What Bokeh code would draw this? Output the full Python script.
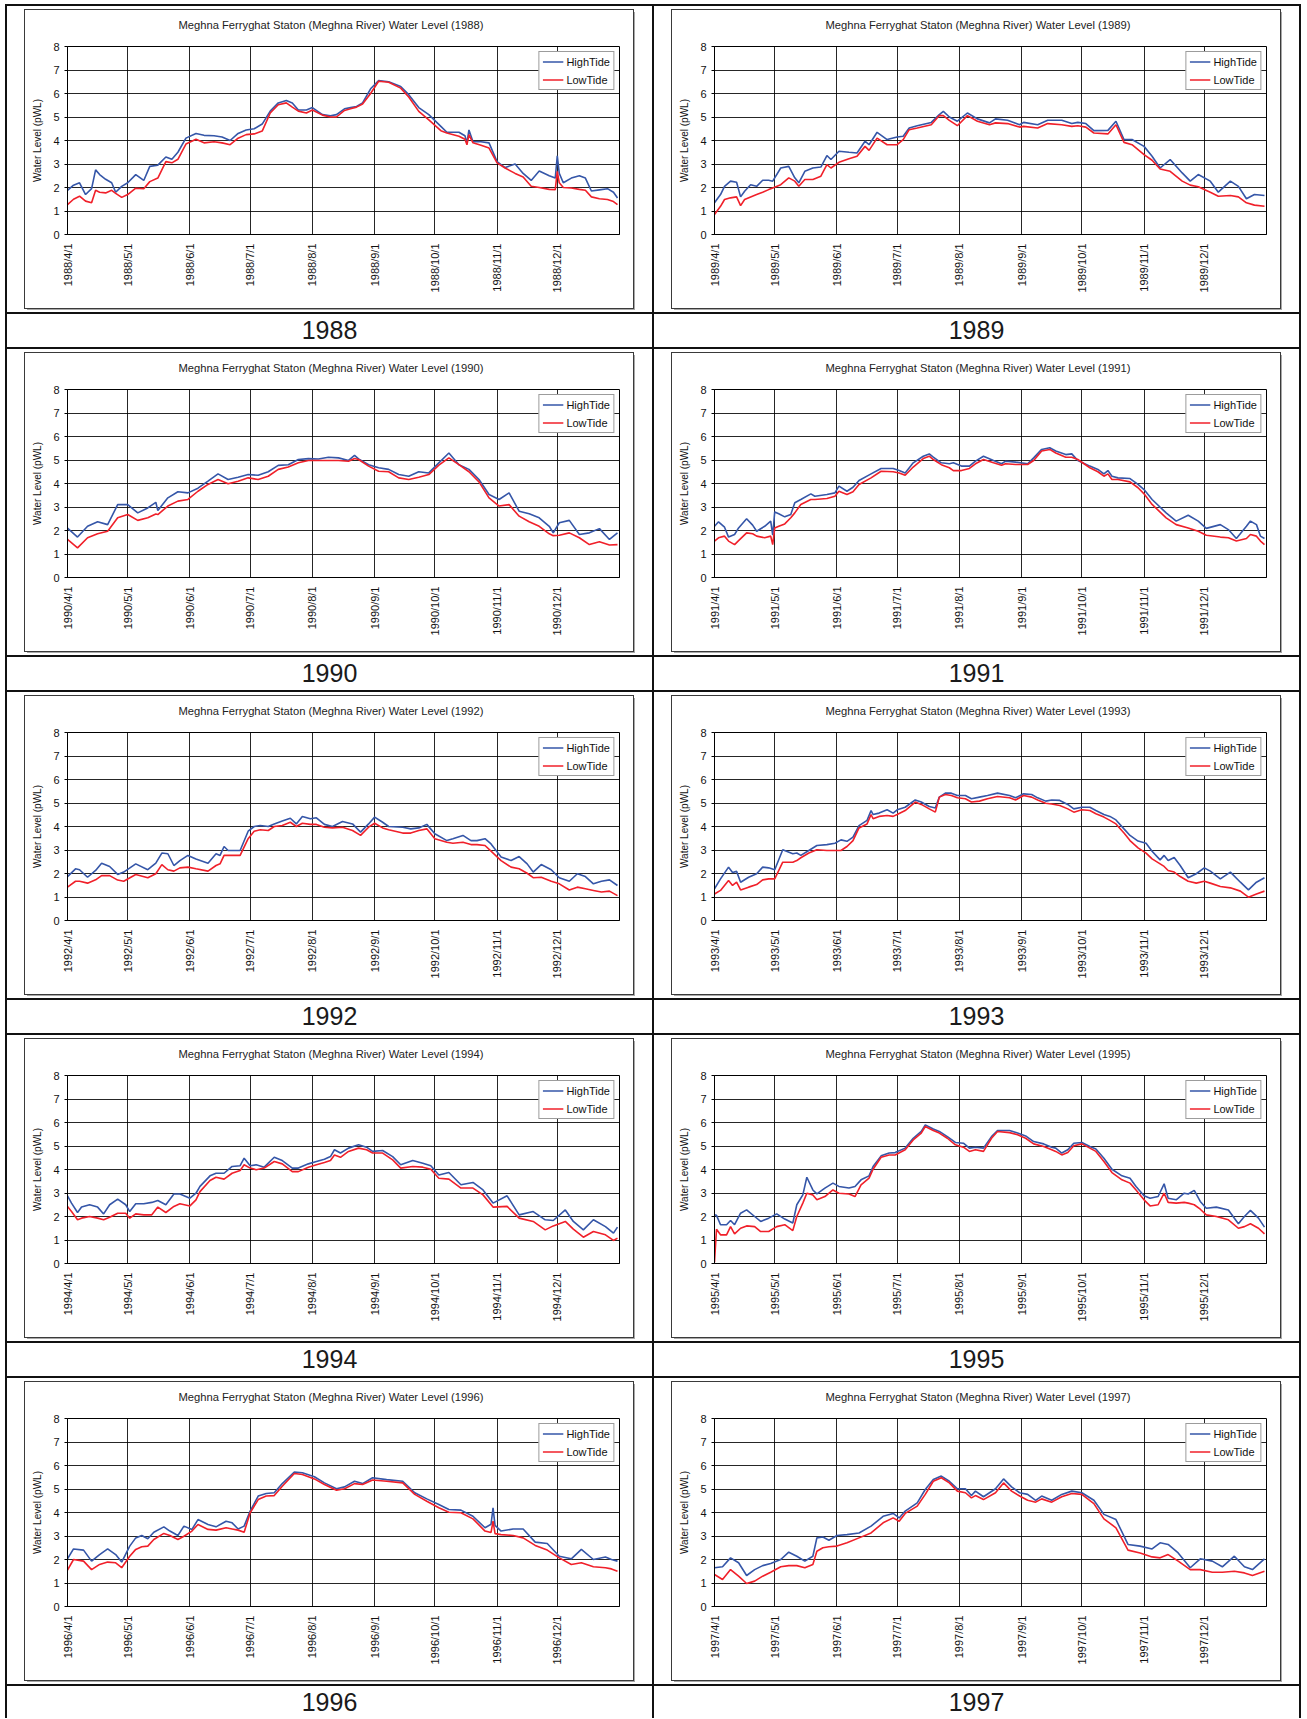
import math
from datetime import date

from bokeh.embed import file_html
from bokeh.layouts import column, row
from bokeh.models import Div, FixedTicker, Range1d, Title
from bokeh.plotting import figure
from bokeh.resources import INLINE

# ---------------------------------------------------------------------------
# Daily water level readings (m, pWL) at Meghna Ferryghat station.
# Days are counted from 1 April of each year.
# ---------------------------------------------------------------------------
YEARS = [1988, 1989, 1990, 1991, 1992, 1993, 1994, 1995, 1996, 1997]
MONTHS = [4, 5, 6, 7, 8, 9, 10, 11, 12]

DAYS_1988 = [0, 3, 6, 9, 12, 14, 16, 19, 22, 24, 27, 30, 34, 38, 41, 45, 49, 52, 55, 59, 64, 68, 73, 77, 81, 85, 89, 93, 97, 101, 105, 109, 112, 115, 119, 122, 127, 131, 134, 138, 141, 144, 147, 151, 155, 160, 166, 170, 175, 180, 186, 189, 195, 198, 199, 200, 202, 206, 210, 214, 218, 223, 227, 231, 235, 240, 243, 244, 245, 247, 251, 255, 258, 261, 265, 269, 272, 274]
HIGH_1988 = [1.88, 2.1, 2.2, 1.7, 1.95, 2.75, 2.55, 2.35, 2.2, 1.8, 2.05, 2.2, 2.55, 2.3, 2.9, 2.95, 3.3, 3.2, 3.5, 4.1, 4.3, 4.22, 4.2, 4.15, 4.0, 4.3, 4.45, 4.5, 4.7, 5.25, 5.6, 5.7, 5.6, 5.3, 5.3, 5.4, 5.1, 5.05, 5.1, 5.35, 5.4, 5.45, 5.6, 6.2, 6.55, 6.5, 6.3, 5.95, 5.4, 5.1, 4.6, 4.35, 4.35, 4.2, 3.9, 4.45, 3.95, 3.95, 3.9, 3.1, 2.85, 3.0, 2.6, 2.3, 2.7, 2.5, 2.4, 3.35, 2.6, 2.2, 2.4, 2.5, 2.4, 1.85, 1.9, 1.95, 1.8, 1.55]
LOW_1988 = [1.27, 1.5, 1.63, 1.42, 1.35, 1.88, 1.8, 1.77, 1.88, 1.75, 1.58, 1.7, 1.97, 1.95, 2.25, 2.4, 3.1, 3.05, 3.2, 3.85, 4.05, 3.9, 3.95, 3.9, 3.82, 4.1, 4.25, 4.28, 4.4, 5.17, 5.52, 5.6, 5.42, 5.25, 5.17, 5.3, 5.08, 5.0, 5.0, 5.28, 5.35, 5.42, 5.55, 6.0, 6.52, 6.48, 6.23, 5.85, 5.24, 4.88, 4.42, 4.32, 4.18, 4.05, 3.82, 4.25, 3.9, 3.8, 3.68, 3.05, 2.83, 2.6, 2.45, 2.05, 2.0, 1.92, 1.91, 2.69, 2.2, 2.0, 1.98, 1.92, 1.88, 1.6, 1.52, 1.49, 1.4, 1.27]

DAYS_1989 = [0, 3, 5, 8, 11, 13, 15, 18, 21, 24, 27, 29, 33, 37, 40, 42, 45, 49, 53, 56, 58, 62, 67, 71, 75, 77, 81, 86, 91, 94, 97, 101, 108, 112, 114, 117, 121, 126, 131, 137, 140, 146, 152, 154, 161, 166, 173, 178, 181, 185, 189, 196, 200, 204, 208, 214, 218, 222, 227, 233, 237, 241, 247, 251, 257, 261, 265, 269, 274]
HIGH_1989 = [1.35, 1.7, 2.05, 2.27, 2.22, 1.6, 1.84, 2.12, 2.05, 2.31, 2.31, 2.27, 2.83, 2.9, 2.41, 2.2, 2.69, 2.83, 2.87, 3.36, 3.19, 3.54, 3.5, 3.47, 3.97, 3.82, 4.35, 4.04, 4.15, 4.18, 4.53, 4.63, 4.77, 5.1, 5.24, 5.0, 4.82, 5.17, 4.92, 4.75, 4.92, 4.86, 4.67, 4.77, 4.67, 4.86, 4.86, 4.72, 4.77, 4.72, 4.42, 4.43, 4.82, 4.04, 4.04, 3.75, 3.33, 2.83, 3.19, 2.62, 2.27, 2.55, 2.27, 1.8, 2.27, 2.05, 1.52, 1.7, 1.66]
LOW_1989 = [0.85, 1.2, 1.49, 1.56, 1.6, 1.23, 1.49, 1.6, 1.7, 1.8, 1.91, 1.98, 2.12, 2.41, 2.27, 2.05, 2.34, 2.34, 2.48, 2.97, 2.83, 3.07, 3.22, 3.33, 3.75, 3.58, 4.1, 3.82, 3.82, 4.04, 4.46, 4.53, 4.67, 5.06, 5.06, 4.86, 4.63, 5.06, 4.82, 4.67, 4.75, 4.72, 4.57, 4.6, 4.53, 4.72, 4.67, 4.6, 4.63, 4.57, 4.32, 4.28, 4.67, 3.92, 3.82, 3.4, 3.16, 2.79, 2.69, 2.27, 2.1, 2.03, 1.8, 1.63, 1.66, 1.6, 1.35, 1.25, 1.2]

DAYS_1990 = [0, 5, 10, 15, 20, 25, 30, 35, 40, 44, 45, 50, 55, 60, 65, 70, 75, 80, 85, 90, 95, 100, 105, 110, 115, 120, 125, 130, 135, 140, 143, 145, 150, 155, 160, 165, 170, 175, 180, 185, 190, 195, 200, 205, 210, 215, 220, 225, 230, 235, 240, 242, 245, 250, 255, 260, 265, 270, 274]
HIGH_1990 = [2.1, 1.72, 2.18, 2.37, 2.25, 3.1, 3.1, 2.75, 2.96, 3.2, 2.85, 3.39, 3.65, 3.6, 3.8, 4.1, 4.41, 4.17, 4.27, 4.38, 4.35, 4.5, 4.77, 4.8, 5.02, 5.06, 5.04, 5.12, 5.09, 4.98, 5.2, 5.05, 4.8, 4.67, 4.6, 4.38, 4.31, 4.5, 4.45, 4.88, 5.3, 4.8, 4.6, 4.17, 3.53, 3.32, 3.6, 2.82, 2.71, 2.54, 2.18, 1.9, 2.33, 2.43, 1.83, 1.9, 2.08, 1.62, 1.9]
LOW_1990 = [1.62, 1.26, 1.69, 1.86, 1.97, 2.54, 2.68, 2.43, 2.54, 2.7, 2.68, 3.04, 3.25, 3.32, 3.67, 3.96, 4.17, 3.99, 4.1, 4.24, 4.17, 4.31, 4.6, 4.7, 4.88, 4.98, 4.98, 4.98, 4.98, 4.95, 5.06, 5.02, 4.74, 4.52, 4.5, 4.24, 4.17, 4.27, 4.38, 4.78, 5.09, 4.8, 4.5, 4.07, 3.39, 3.04, 3.1, 2.61, 2.37, 2.18, 1.86, 1.78, 1.8, 1.9, 1.69, 1.4, 1.52, 1.38, 1.4]

DAYS_1991 = [0, 2, 5, 7, 10, 12, 16, 19, 21, 25, 28, 29, 30, 32, 35, 38, 40, 43, 48, 50, 56, 60, 62, 66, 69, 72, 78, 83, 89, 92, 95, 99, 104, 107, 109, 113, 117, 119, 123, 127, 130, 134, 139, 143, 145, 150, 156, 159, 163, 167, 170, 175, 178, 181, 187, 191, 194, 196, 198, 201, 207, 211, 214, 218, 225, 230, 236, 241, 245, 252, 256, 260, 265, 267, 270, 272, 274]
HIGH_1991 = [2.18, 2.37, 2.14, 1.72, 1.83, 2.11, 2.5, 2.23, 1.97, 2.18, 2.4, 1.8, 2.79, 2.71, 2.58, 2.68, 3.18, 3.32, 3.56, 3.46, 3.53, 3.6, 3.89, 3.67, 3.84, 4.13, 4.41, 4.64, 4.64, 4.55, 4.45, 4.88, 5.16, 5.26, 5.12, 4.88, 4.84, 4.88, 4.74, 4.74, 4.95, 5.16, 4.98, 4.84, 4.95, 4.91, 4.84, 5.09, 5.45, 5.52, 5.38, 5.23, 5.26, 4.98, 4.74, 4.6, 4.41, 4.55, 4.31, 4.24, 4.21, 3.96, 3.74, 3.32, 2.75, 2.4, 2.65, 2.4, 2.09, 2.25, 2.04, 1.66, 2.18, 2.4, 2.25, 1.76, 1.66]
LOW_1991 = [1.55, 1.69, 1.76, 1.55, 1.4, 1.57, 1.9, 1.86, 1.76, 1.69, 1.76, 1.4, 2.11, 2.18, 2.28, 2.54, 2.75, 3.11, 3.32, 3.32, 3.36, 3.46, 3.67, 3.53, 3.65, 3.96, 4.24, 4.52, 4.5, 4.45, 4.35, 4.7, 5.06, 5.16, 5.02, 4.8, 4.67, 4.55, 4.55, 4.64, 4.84, 5.02, 4.88, 4.78, 4.84, 4.81, 4.81, 4.98, 5.38, 5.45, 5.3, 5.12, 5.12, 5.02, 4.67, 4.5, 4.31, 4.41, 4.17, 4.17, 4.07, 3.82, 3.56, 3.11, 2.54, 2.25, 2.11, 1.97, 1.8, 1.72, 1.69, 1.55, 1.66, 1.83, 1.76, 1.55, 1.4]

DAYS_1992 = [0, 4, 6, 10, 14, 17, 21, 25, 28, 34, 40, 44, 47, 50, 53, 56, 60, 64, 70, 74, 76, 78, 80, 86, 90, 93, 96, 100, 103, 107, 111, 114, 117, 121, 124, 128, 132, 137, 142, 146, 150, 153, 157, 160, 167, 171, 175, 179, 183, 189, 192, 197, 201, 204, 208, 211, 216, 221, 225, 229, 232, 236, 241, 245, 250, 254, 258, 262, 266, 270, 274]
HIGH_1992 = [1.87, 2.2, 2.16, 1.84, 2.13, 2.44, 2.3, 1.96, 2.06, 2.41, 2.16, 2.44, 2.87, 2.84, 2.34, 2.55, 2.77, 2.62, 2.44, 2.84, 2.77, 3.15, 2.98, 2.98, 3.8, 4.0, 4.04, 4.0, 4.11, 4.23, 4.35, 4.11, 4.43, 4.33, 4.37, 4.09, 4.0, 4.21, 4.11, 3.76, 4.11, 4.4, 4.18, 4.0, 3.97, 3.9, 3.94, 4.09, 3.69, 3.4, 3.48, 3.62, 3.4, 3.4, 3.48, 3.26, 2.7, 2.55, 2.72, 2.41, 2.06, 2.38, 2.16, 1.82, 1.67, 1.99, 1.87, 1.56, 1.67, 1.73, 1.49]
LOW_1992 = [1.42, 1.67, 1.67, 1.59, 1.73, 1.91, 1.91, 1.72, 1.67, 1.96, 1.82, 1.99, 2.38, 2.16, 2.1, 2.24, 2.27, 2.2, 2.1, 2.34, 2.41, 2.77, 2.77, 2.77, 3.48, 3.8, 3.86, 3.83, 4.0, 4.04, 4.18, 4.0, 4.14, 4.09, 4.09, 3.97, 3.94, 3.97, 3.83, 3.62, 3.97, 4.14, 3.94, 3.86, 3.72, 3.72, 3.83, 3.9, 3.48, 3.33, 3.29, 3.33, 3.23, 3.23, 3.19, 2.95, 2.55, 2.27, 2.2, 2.01, 1.82, 1.84, 1.67, 1.56, 1.3, 1.42, 1.35, 1.28, 1.21, 1.25, 1.06]

DAYS_1993 = [0, 3, 7, 9, 11, 13, 17, 21, 24, 27, 30, 34, 39, 41, 43, 47, 51, 56, 60, 63, 66, 69, 72, 76, 78, 79, 82, 86, 89, 91, 95, 100, 103, 107, 110, 112, 115, 118, 121, 125, 128, 132, 136, 141, 147, 150, 154, 158, 161, 165, 168, 172, 176, 179, 183, 187, 190, 194, 197, 200, 204, 207, 211, 215, 218, 222, 224, 226, 229, 232, 236, 240, 244, 247, 252, 257, 262, 266, 270, 274]
HIGH_1993 = [1.35, 1.77, 2.27, 2.04, 2.09, 1.63, 1.84, 1.99, 2.27, 2.24, 2.16, 3.01, 2.84, 2.87, 2.77, 2.98, 3.19, 3.23, 3.29, 3.43, 3.37, 3.55, 4.04, 4.26, 4.68, 4.51, 4.57, 4.71, 4.57, 4.71, 4.82, 5.13, 5.04, 4.85, 4.79, 5.25, 5.42, 5.42, 5.32, 5.32, 5.18, 5.25, 5.32, 5.42, 5.32, 5.22, 5.39, 5.36, 5.22, 5.08, 5.13, 5.11, 4.94, 4.75, 4.82, 4.82, 4.68, 4.51, 4.43, 4.28, 3.9, 3.62, 3.38, 3.29, 2.95, 2.58, 2.77, 2.55, 2.68, 2.34, 1.82, 1.99, 2.24, 2.1, 1.77, 2.06, 1.63, 1.3, 1.63, 1.82]
LOW_1993 = [1.13, 1.28, 1.7, 1.49, 1.63, 1.3, 1.42, 1.53, 1.73, 1.77, 1.77, 2.48, 2.48, 2.55, 2.67, 2.87, 3.01, 2.98, 2.98, 2.98, 3.15, 3.4, 3.94, 4.11, 4.51, 4.33, 4.43, 4.47, 4.43, 4.51, 4.68, 5.04, 4.94, 4.75, 4.61, 5.25, 5.36, 5.32, 5.22, 5.18, 5.04, 5.08, 5.18, 5.28, 5.22, 5.13, 5.32, 5.25, 5.13, 4.99, 4.96, 4.89, 4.75, 4.61, 4.71, 4.68, 4.54, 4.4, 4.26, 4.11, 3.72, 3.4, 3.09, 2.87, 2.62, 2.41, 2.3, 2.13, 2.06, 1.87, 1.67, 1.59, 1.67, 1.59, 1.45, 1.39, 1.25, 0.99, 1.13, 1.25]

DAYS_1994 = [0, 2, 5, 7, 11, 15, 18, 21, 25, 29, 31, 34, 38, 42, 45, 49, 53, 56, 61, 64, 66, 71, 74, 78, 82, 86, 88, 91, 94, 98, 103, 107, 112, 115, 120, 124, 128, 131, 133, 136, 140, 145, 149, 152, 157, 162, 166, 172, 177, 181, 185, 190, 196, 202, 207, 212, 219, 225, 232, 238, 242, 248, 252, 257, 262, 268, 272, 274]
HIGH_1994 = [2.88, 2.57, 2.17, 2.4, 2.5, 2.4, 2.11, 2.5, 2.74, 2.5, 2.21, 2.54, 2.54, 2.6, 2.68, 2.5, 2.96, 2.96, 2.78, 2.99, 3.28, 3.73, 3.84, 3.84, 4.13, 4.16, 4.48, 4.16, 4.2, 4.1, 4.52, 4.38, 4.06, 4.06, 4.24, 4.34, 4.44, 4.55, 4.84, 4.7, 4.91, 5.05, 4.95, 4.77, 4.81, 4.55, 4.2, 4.38, 4.27, 4.16, 3.77, 3.87, 3.35, 3.45, 3.13, 2.57, 2.88, 2.07, 2.21, 1.86, 1.83, 2.28, 1.79, 1.43, 1.86, 1.57, 1.29, 1.55]
LOW_1994 = [2.43, 2.21, 1.86, 1.93, 2.0, 1.93, 1.86, 1.97, 2.14, 2.14, 1.93, 2.11, 2.07, 2.07, 2.4, 2.17, 2.43, 2.54, 2.45, 2.71, 3.06, 3.53, 3.67, 3.59, 3.84, 3.96, 4.2, 4.06, 3.99, 4.06, 4.34, 4.24, 3.91, 3.91, 4.1, 4.2, 4.3, 4.38, 4.62, 4.52, 4.77, 4.91, 4.84, 4.7, 4.7, 4.41, 4.06, 4.13, 4.1, 4.01, 3.63, 3.59, 3.21, 3.21, 2.92, 2.4, 2.43, 1.93, 1.79, 1.43, 1.6, 1.79, 1.46, 1.12, 1.36, 1.22, 0.98, 1.08]

DAYS_1995 = [0, 1, 3, 6, 8, 10, 13, 16, 20, 23, 27, 31, 35, 39, 41, 44, 46, 49, 51, 55, 59, 62, 67, 70, 73, 77, 79, 83, 87, 90, 95, 99, 103, 105, 109, 112, 116, 120, 124, 127, 130, 134, 138, 141, 147, 151, 155, 159, 164, 168, 170, 173, 176, 179, 183, 187, 190, 194, 198, 203, 207, 210, 214, 217, 221, 224, 226, 230, 234, 236, 239, 242, 245, 250, 256, 261, 264, 267, 271, 274]
HIGH_1995 = [2.07, 2.05, 1.65, 1.65, 1.83, 1.65, 2.14, 2.28, 2.0, 1.79, 1.93, 2.11, 1.89, 1.72, 2.5, 2.92, 3.67, 3.13, 2.96, 3.21, 3.42, 3.28, 3.21, 3.28, 3.56, 3.73, 4.13, 4.58, 4.7, 4.72, 4.91, 5.33, 5.62, 5.9, 5.72, 5.62, 5.4, 5.15, 5.12, 4.91, 4.95, 4.91, 5.4, 5.66, 5.66, 5.55, 5.43, 5.19, 5.09, 4.95, 4.91, 4.7, 4.84, 5.12, 5.15, 4.98, 4.87, 4.48, 4.01, 3.73, 3.63, 3.28, 2.88, 2.78, 2.85, 3.39, 2.78, 2.71, 2.99, 2.96, 3.11, 2.64, 2.35, 2.4, 2.28, 1.69, 2.0, 2.26, 1.93, 1.55]
LOW_1995 = [0.05, 1.46, 1.22, 1.22, 1.57, 1.26, 1.5, 1.6, 1.57, 1.36, 1.36, 1.57, 1.65, 1.4, 2.0, 2.57, 2.99, 2.92, 2.71, 2.85, 3.13, 2.99, 2.96, 2.85, 3.35, 3.63, 4.01, 4.52, 4.62, 4.62, 4.84, 5.26, 5.55, 5.83, 5.66, 5.55, 5.33, 5.05, 4.95, 4.77, 4.84, 4.77, 5.33, 5.62, 5.57, 5.48, 5.33, 5.09, 4.98, 4.84, 4.77, 4.62, 4.72, 5.01, 5.09, 4.91, 4.77, 4.34, 3.87, 3.56, 3.42, 3.13, 2.71, 2.45, 2.5, 2.99, 2.6, 2.57, 2.6, 2.57, 2.5, 2.31, 2.07, 2.0, 1.86, 1.5, 1.57, 1.69, 1.5, 1.26]

DAYS_1996 = [0, 3, 8, 12, 16, 20, 24, 27, 31, 34, 37, 40, 43, 48, 51, 55, 58, 62, 65, 70, 74, 79, 82, 85, 88, 91, 95, 99, 103, 107, 113, 117, 123, 128, 134, 138, 143, 147, 152, 159, 167, 173, 179, 185, 190, 196, 202, 208, 211, 212, 213, 216, 222, 227, 233, 239, 245, 251, 256, 262, 268, 271, 274]
HIGH_1996 = [2.03, 2.45, 2.4, 1.93, 2.21, 2.45, 2.21, 1.89, 2.57, 2.92, 3.02, 2.88, 3.16, 3.39, 3.21, 3.02, 3.42, 3.28, 3.7, 3.49, 3.39, 3.63, 3.56, 3.3, 3.42, 4.06, 4.7, 4.81, 4.84, 5.23, 5.72, 5.69, 5.52, 5.26, 5.01, 5.09, 5.33, 5.23, 5.48, 5.4, 5.33, 4.84, 4.58, 4.34, 4.13, 4.1, 3.84, 3.35, 3.5, 4.2, 3.45, 3.21, 3.3, 3.3, 2.74, 2.68, 2.14, 2.03, 2.43, 2.0, 2.11, 2.0, 1.93]
LOW_1996 = [1.55, 2.0, 1.93, 1.57, 1.79, 1.89, 1.86, 1.65, 2.14, 2.43, 2.54, 2.57, 2.85, 3.11, 3.02, 2.85, 2.99, 3.21, 3.49, 3.28, 3.25, 3.35, 3.3, 3.25, 3.16, 3.99, 4.55, 4.7, 4.72, 5.12, 5.66, 5.62, 5.43, 5.19, 4.95, 5.01, 5.23, 5.19, 5.38, 5.33, 5.26, 4.77, 4.48, 4.2, 4.01, 3.99, 3.73, 3.21, 3.15, 3.63, 3.1, 3.06, 3.02, 2.92, 2.6, 2.4, 2.07, 1.79, 1.86, 1.69, 1.65, 1.6, 1.5]

DAYS_1997 = [0, 4, 8, 12, 16, 20, 24, 28, 33, 37, 41, 45, 49, 51, 54, 57, 61, 66, 72, 78, 84, 89, 92, 95, 101, 105, 109, 113, 117, 121, 125, 128, 130, 134, 140, 144, 148, 152, 156, 160, 163, 168, 173, 178, 183, 189, 194, 200, 206, 212, 218, 222, 226, 231, 237, 242, 248, 253, 259, 264, 268, 274]
HIGH_1997 = [1.65, 1.69, 2.07, 1.86, 1.32, 1.57, 1.74, 1.83, 2.0, 2.31, 2.14, 1.93, 2.14, 2.92, 2.96, 2.82, 3.02, 3.06, 3.13, 3.42, 3.84, 3.96, 3.77, 4.06, 4.41, 4.98, 5.4, 5.55, 5.33, 5.01, 5.01, 4.72, 4.91, 4.67, 5.01, 5.43, 5.09, 4.84, 4.77, 4.52, 4.7, 4.52, 4.77, 4.91, 4.84, 4.52, 3.92, 3.7, 2.64, 2.57, 2.45, 2.71, 2.64, 2.28, 1.65, 2.03, 1.93, 1.69, 2.14, 1.69, 1.57, 2.03]
LOW_1997 = [1.36, 1.15, 1.57, 1.29, 0.98, 1.08, 1.29, 1.46, 1.69, 1.74, 1.74, 1.65, 1.79, 2.35, 2.5, 2.54, 2.57, 2.71, 2.92, 3.13, 3.56, 3.77, 3.63, 3.96, 4.27, 4.77, 5.33, 5.48, 5.26, 4.91, 4.84, 4.62, 4.72, 4.55, 4.84, 5.26, 4.91, 4.7, 4.52, 4.44, 4.58, 4.44, 4.67, 4.81, 4.77, 4.38, 3.73, 3.35, 2.4, 2.28, 2.11, 2.07, 2.21, 1.93, 1.57, 1.57, 1.46, 1.46, 1.5, 1.43, 1.32, 1.5]

SERIES = {
    1988: (DAYS_1988, HIGH_1988, LOW_1988),
    1989: (DAYS_1989, HIGH_1989, LOW_1989),
    1990: (DAYS_1990, HIGH_1990, LOW_1990),
    1991: (DAYS_1991, HIGH_1991, LOW_1991),
    1992: (DAYS_1992, HIGH_1992, LOW_1992),
    1993: (DAYS_1993, HIGH_1993, LOW_1993),
    1994: (DAYS_1994, HIGH_1994, LOW_1994),
    1995: (DAYS_1995, HIGH_1995, LOW_1995),
    1996: (DAYS_1996, HIGH_1996, LOW_1996),
    1997: (DAYS_1997, HIGH_1997, LOW_1997),
}

# ---------------------------------------------------------------------------
# Styling
# ---------------------------------------------------------------------------
FONT = "Liberation Sans"
HIGH_COLOR = "#3556a8"
LOW_COLOR = "#f0202a"
RULE = "#111111"

CELL_W = 645          # width of one table cell
CHART_ROW_H = 306     # height of the chart part of a table row
YEAR_ROW_H = 33       # height of the year caption part
LINE_W = 2            # table rule thickness

FRAME_W, FRAME_H = 552, 188
BORDER_L, BORDER_R, BORDER_T, BORDER_B = 42, 14, 36, 74


def rule(width, height):
    return Div(text="", width=width, height=height, margin=0,
               styles={"background-color": RULE})


def chart(year):
    days, high, low = SERIES[year]
    start = date(year, 4, 1)
    ticks = [(date(year, m, 1) - start).days for m in MONTHS]

    p = figure(
        frame_width=FRAME_W, frame_height=FRAME_H,
        min_border_left=BORDER_L, min_border_right=BORDER_R,
        min_border_top=BORDER_T, min_border_bottom=BORDER_B,
        x_range=Range1d(0, 275), y_range=Range1d(0, 8),
        output_backend="svg", toolbar_location=None,
        margin=(4, 19, 4, 18),
        styles={"outline": "1px solid #3a3a3a",
                "box-shadow": "2px 2px 0 #a8a8a8"},
    )
    p.background_fill_color = "white"
    p.border_fill_color = "white"
    p.outline_line_color = "#000000"
    p.outline_line_width = 1

    # chart heading (outermost slot of the top panel)
    p.title.text = f"Meghna Ferryghat Staton (Meghna River) Water Level ({year})"
    p.title.text_font = FONT
    p.title.text_font_size = "11.2px"
    p.title.text_font_style = "normal"
    p.title.text_color = "#222222"
    p.title.align = "left"
    p.title.offset = 111
    p.title.standoff = 6

    # thin spacer between the frame and the heading
    p.add_layout(Title(text=" ", text_font_size="1px", standoff=10), "above")

    # grid
    p.xgrid.ticker = FixedTicker(ticks=ticks)
    p.ygrid.ticker = FixedTicker(ticks=list(range(9)))
    for g in (p.xgrid, p.ygrid):
        g.grid_line_color = "#000000"
        g.grid_line_width = 1
        g.grid_line_alpha = 0.85

    # x axis: first day of each month, vertical labels
    xa = p.xaxis[0]
    xa.ticker = FixedTicker(ticks=ticks)
    xa.major_label_overrides = {t: f"{year}/{m}/1" for t, m in zip(ticks, MONTHS)}
    xa.major_label_orientation = math.pi / 2
    xa.major_label_standoff = 9
    xa.major_tick_out = 0
    xa.major_tick_in = 0
    xa.minor_tick_out = 0
    xa.minor_tick_in = 0

    # y axis
    ya = p.yaxis[0]
    ya.ticker = FixedTicker(ticks=list(range(9)))
    ya.axis_label = "Water Level (pWL)"
    ya.axis_label_text_font = FONT
    ya.axis_label_text_font_size = "10px"
    ya.axis_label_text_font_style = "normal"
    ya.axis_label_text_color = "#111111"
    ya.axis_label_standoff = 7
    ya.major_label_standoff = 5
    ya.major_tick_out = 3
    ya.major_tick_in = 0
    ya.minor_tick_out = 0
    ya.minor_tick_in = 0

    for ax in (xa, ya):
        ax.axis_line_color = "#000000"
        ax.major_tick_line_color = "#000000"
        ax.major_label_text_font = FONT
        ax.major_label_text_font_size = "11px"
        ax.major_label_text_color = "#111111"

    p.line(days, high, line_color=HIGH_COLOR, line_width=1.6, legend_label="HighTide")
    p.line(days, low, line_color=LOW_COLOR, line_width=1.6, legend_label="LowTide")

    lg = p.legend[0]
    lg.location = "top_right"
    lg.margin = 5
    lg.padding = 3
    lg.spacing = 5
    lg.glyph_width = 21
    lg.glyph_height = 13
    lg.label_height = 13
    lg.label_standoff = 3
    lg.label_text_font = FONT
    lg.label_text_font_size = "11px"
    lg.label_text_color = "#111111"
    lg.border_line_color = "#3a3a3a"
    lg.border_line_width = 1
    lg.background_fill_color = "white"
    lg.background_fill_alpha = 1.0
    return p


def year_caption(year, height):
    return Div(text=str(year), width=CELL_W, height=height, margin=0,
               styles={"font-family": FONT, "font-size": "25px",
                       "color": "#1a1a1a", "text-align": "center",
                       "line-height": f"{height}px"})


total_w = 3 * LINE_W + 2 * CELL_W
blocks = [rule(total_w, LINE_W)]
pairs = [YEARS[i:i + 2] for i in range(0, len(YEARS), 2)]
for idx, (left_year, right_year) in enumerate(pairs):
    blocks.append(row(rule(LINE_W, CHART_ROW_H), chart(left_year),
                      rule(LINE_W, CHART_ROW_H), chart(right_year),
                      rule(LINE_W, CHART_ROW_H), spacing=0))
    blocks.append(rule(total_w, LINE_W))
    cap_h = YEAR_ROW_H if idx < len(pairs) - 1 else YEAR_ROW_H - 1
    blocks.append(row(rule(LINE_W, cap_h), year_caption(left_year, cap_h),
                      rule(LINE_W, cap_h), year_caption(right_year, cap_h),
                      rule(LINE_W, cap_h), spacing=0))
    if idx < len(pairs) - 1:
        blocks.append(rule(total_w, LINE_W))

page = column(*blocks, spacing=0, margin=(4, 0, 0, 5))

html = file_html(page, INLINE, title="Meghna Ferryghat Station water levels 1988-1997")
html = html.replace("<head>", "<head><style>html, body { margin: 0; padding: 0; }</style>", 1)
open("out.html", "w").write(html)
